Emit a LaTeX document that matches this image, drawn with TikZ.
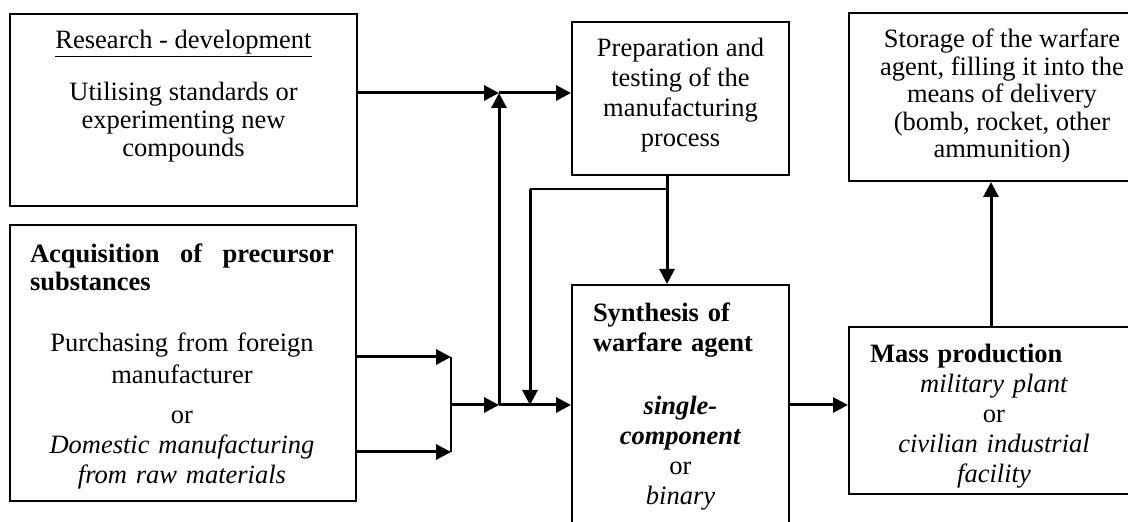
\documentclass[tikz,border=0pt]{standalone}
\usepackage{fontspec}
\setmainfont{Liberation Serif}
\usetikzlibrary{positioning}
\usetikzlibrary{arrows.meta}
\tikzset{every picture/.style={line width=1pt},
box/.style={draw,line width=1pt,anchor=north west,inner sep=0pt},
txt/.style={inner sep=0pt,align=center,anchor=north},
arr/.style={line width=1.5pt,-{Triangle[length=7.5pt,width=7.5pt]}}}
\newcommand{\fs}[1]{\fontsize{13.25}{#1}\selectfont}

\begin{document}
\begin{tikzpicture}[x=0.5pt,y=-0.5pt]
\useasboundingbox (0,0) rectangle (1128,522);
% boxes
\node[box,minimum width=173.5pt,minimum height=96pt] (res) at (9,13) {};
\node[box,minimum width=173pt,minimum height=138pt] (acq) at (9,224) {};
\node[box,minimum width=108.5pt,minimum height=76.5pt] (prep) at (571,21) {};
\node[box,minimum width=108.5pt,minimum height=135pt] (syn) at (571,284) {};
\node[box,minimum width=153pt,minimum height=83.5pt] (mass) at (848,326) {};
\node[box,minimum width=153pt,minimum height=84pt] (stor) at (848,12) {};
% texts
\node[txt,font=\fs{14},below=8pt of res.north] (restxt) {\underline{Research - development}\\[11pt]Utilising standards or\\experimenting new\\compounds};
\node[txt,font=\fs{14},text width=152pt,below=9.5pt of acq.north,xshift=-0.5pt] (acqtxt) {\hbox to 152pt{\bfseries Acquisition\hfill of\hfill precursor}\\\makebox[152pt][l]{\textbf{substances}}\\[16.5pt]Purchasing from foreign\\[2pt]manufacturer\\[6pt]or\\[1pt]\textit{Domestic manufacturing}\\[1pt]\textit{from raw materials}};
\node[txt,font=\fs{15},below=8pt of prep.north] (preptxt) {Preparation and\\testing of the\\manufacturing\\process};
\node[txt,font=\fs{15},text width=87.5pt,below=9pt of syn.north] (syntxt) {\makebox[87.5pt][l]{\textbf{Synthesis of}}\\\makebox[87.5pt][l]{\textbf{warfare agent}}\\[16.5pt]\textbf{\textit{single-}}\\\textbf{\textit{component}}\\or\\\textit{binary}};
\node[txt,font=\fs{15},text width=124pt,below=8.5pt of mass.north,xshift=-4pt] (masstxt) {\makebox[124pt][l]{\textbf{Mass production}}\\\textit{military plant}\\or\\\textit{civilian industrial}\\\textit{facility}};
\node[txt,font=\fs{13.75},below=8pt of stor.north] (stortxt) {Storage of the warfare\\agent, filling it into the\\means of delivery\\(bomb, rocket, other\\ammunition)};
% junctions
\coordinate (top) at (499,93);
\coordinate (mid) at (499,405);
\coordinate (fork) at (451,405);
\coordinate (in1) at (451,357);
\coordinate (in2) at (451,452);
\coordinate (split) at (667,189);
\coordinate (back) at (530,189);
\coordinate (lift) at (991,250);
% arrows
\draw[arr] (res.east |- top) -- (top);
\draw[arr] (top) -- (top -| prep.west);
\draw[arr] (acq.east |- in1) -- (in1);
\draw[arr] (acq.east |- in2) -- (in2);
\draw (in1) -- (in2);
\draw[arr] (fork) -- (mid);
\draw[arr] (mid) -- (top);
\draw[arr] (mid) -- (mid -| syn.west);
\draw[arr] (split |- prep.south) -- (split |- syn.north);
\draw (split) -- (back);
\draw[arr] (back) -- (back |- mid);
\draw[arr] (mid -| syn.east) -- (mid -| mass.west);
\draw[arr] (lift |- mass.north) -- (lift |- stor.south);
\end{tikzpicture}
\end{document}
